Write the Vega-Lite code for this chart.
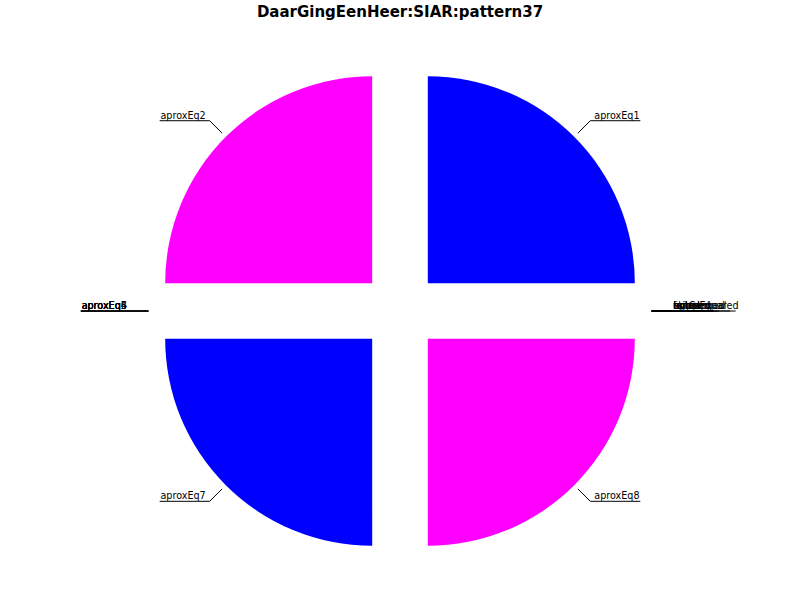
{
  "$schema": "https://vega.github.io/schema/vega-lite/v6.json",
  "width": 800,
  "height": 576,
  "autosize": {"type": "none"},
  "padding": {"left": 0, "right": 0, "top": 24, "bottom": 0},
  "background": "white",
  "title": {"text": "DaarGingEenHeer:SIAR:pattern37", "font": "DejaVu Sans", "fontSize": 15, "fontWeight": "bold", "color": "black", "anchor": "middle", "offset": 4},
  "config": {"view": {"stroke": null}},
  "data": {"values": [
    {"i": 1, "label": "aproxEq1", "value": 25},
    {"i": 2, "label": "aproxEq2", "value": 25},
    {"i": 3, "label": "aproxEq3", "value": 0},
    {"i": 4, "label": "aproxEq4", "value": 0},
    {"i": 5, "label": "aproxEq5", "value": 0},
    {"i": 6, "label": "aproxEq6", "value": 0},
    {"i": 7, "label": "aproxEq7", "value": 25},
    {"i": 8, "label": "aproxEq8", "value": 25},
    {"i": 9, "label": "bytesEqual", "value": 0},
    {"i": 10, "label": "equal", "value": 0},
    {"i": 11, "label": "ignored", "value": 0},
    {"i": 12, "label": "skipped", "value": 0},
    {"i": 13, "label": "failed", "value": 0},
    {"i": 14, "label": "unmapped", "value": 0},
    {"i": 15, "label": "notCompared", "value": 0}
  ]},
  "transform": [
    {"stack": "value", "groupby": [], "sort": [{"field": "i", "order": "ascending"}], "as": ["start", "end"]},
    {"calculate": "PI*(datum.start+datum.end)/100", "as": "mid"},
    {"calculate": "0.19*cos(datum.mid)", "as": "cx"},
    {"calculate": "0.19*sin(datum.mid)", "as": "cy"},
    {"calculate": "1.215*cos(datum.mid)", "as": "sx"},
    {"calculate": "1.215*sin(datum.mid)", "as": "sy"},
    {"calculate": "1.3*cos(datum.mid)", "as": "ex"},
    {"calculate": "1.3*sin(datum.mid)", "as": "ey"},
    {"calculate": "cos(datum.mid) >= 0 ? 1 : -1", "as": "side"},
    {"calculate": "datum.ex + datum.side*(length(datum.label)*5.5+6)/207", "as": "ux"}
  ],
  "layer": [
    {
      "mark": {"type": "arc", "radius": 207, "stroke": null},
      "encoding": {
        "theta": {"field": "start", "type": "quantitative", "scale": {"domain": [0, 100], "range": [1.5708, -4.7124]}},
        "theta2": {"field": "end"},
        "x": {"field": "cx", "type": "quantitative", "scale": {"domain": [-1.932, 1.932], "nice": false, "zero": false}, "axis": null},
        "y": {"field": "cy", "type": "quantitative", "scale": {"domain": [-1.396, 1.3865], "nice": false, "zero": false}, "axis": null},
        "color": {"field": "label", "type": "nominal", "legend": null, "scale": {
          "domain": ["aproxEq1","aproxEq2","aproxEq3","aproxEq4","aproxEq5","aproxEq6","aproxEq7","aproxEq8","bytesEqual","equal","ignored","skipped","failed","unmapped","notCompared"],
          "range": ["#0000ff","#ff00ff","#0000ff","#ff00ff","#0000ff","#ff00ff","#0000ff","#ff00ff","#0000ff","#ff00ff","#0000ff","#ff00ff","#0000ff","#ff00ff","#0000ff"]}}
      }
    },
    {
      "mark": {"type": "rule", "color": "black", "strokeWidth": 1},
      "encoding": {
        "x": {"field": "sx", "type": "quantitative"},
        "y": {"field": "sy", "type": "quantitative"},
        "x2": {"field": "ex"},
        "y2": {"field": "ey"}
      }
    },
    {
      "mark": {"type": "rule", "color": "black", "strokeWidth": 1},
      "encoding": {
        "x": {"field": "ex", "type": "quantitative"},
        "y": {"field": "ey", "type": "quantitative"},
        "x2": {"field": "ux"},
        "y2": {"field": "ey"}
      }
    },
    {
      "transform": [{"filter": "datum.side > 0"}],
      "mark": {"type": "text", "align": "left", "baseline": "alphabetic", "dx": 4, "dy": -2, "font": "DejaVu Sans", "fontSize": 9.6, "color": "black"},
      "encoding": {
        "x": {"field": "ex", "type": "quantitative"},
        "y": {"field": "ey", "type": "quantitative"},
        "text": {"field": "label"}
      }
    },
    {
      "transform": [{"filter": "datum.side < 0"}],
      "mark": {"type": "text", "align": "right", "baseline": "alphabetic", "dx": -4, "dy": -2, "font": "DejaVu Sans", "fontSize": 9.6, "color": "black"},
      "encoding": {
        "x": {"field": "ex", "type": "quantitative"},
        "y": {"field": "ey", "type": "quantitative"},
        "text": {"field": "label"}
      }
    }
  ]
}
